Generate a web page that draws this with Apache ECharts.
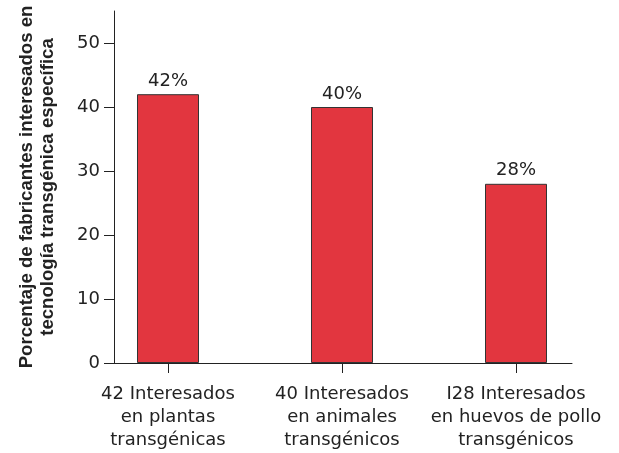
<!DOCTYPE html>
<html>
<head>
<meta charset="utf-8">
<script src="https://cdn.jsdelivr.net/npm/echarts@6/dist/echarts.min.js"></script>
<style>html,body{margin:0;padding:0;background:#fff}#c{width:619px;height:453px}</style>
</head>
<body>
<div id="c"></div>
<script>
const categories = ['42 Interesados\nen plantas\ntransgénicas', '40 Interesados\nen animales\ntransgénicos', 'I28 Interesados\nen huevos de pollo\ntransgénicos'];
const values = [42, 40, 28];
const yTicks = [0, 10, 20, 30, 40, 50];
const yName = 'Porcentaje de fabricantes interesados en\ntecnología transgénica específica';

const txt = '#222';
const font = 'DejaVu Sans';
const chart = echarts.init(document.getElementById('c'));
chart.setOption({
  animation: false,
  grid: [
    {left: 81, right: 16, top: 11, bottom: 90},
    {left: 114, right: 47, top: 11, bottom: 90}
  ],
  xAxis: [
    {gridIndex: 0, type: 'category', data: categories,
     axisLine: {show: false},
     axisTick: {show: true, alignWithLabel: true, length: 10, lineStyle: {color: txt, width: 1}},
     axisLabel: {color: txt, fontFamily: font, fontSize: 18, lineHeight: 23, margin: 20, interval: 0}},
    {gridIndex: 1, type: 'value', min: 0, max: 1,
     axisLine: {show: true, lineStyle: {color: txt, width: 1}},
     axisTick: {show: false}, axisLabel: {show: false}, splitLine: {show: false}}
  ],
  yAxis: [
    {gridIndex: 0, type: 'value', min: 0, max: 55, show: false, splitLine: {show: false}},
    {gridIndex: 1, type: 'value', min: 0, max: 55, interval: 10,
     name: yName, nameLocation: 'middle', nameGap: 56,
     nameTextStyle: {color: txt, fontFamily: 'Liberation Sans', fontWeight: 'bold', fontSize: 18.6, lineHeight: 21},
     axisLine: {show: true, lineStyle: {color: txt, width: 1}},
     axisTick: {show: true, length: 10, customValues: yTicks, lineStyle: {color: txt, width: 1}},
     axisLabel: {color: txt, fontFamily: font, fontSize: 18, margin: 14, customValues: yTicks},
     splitLine: {show: false}}
  ],
  series: [{
    type: 'bar', xAxisIndex: 0, yAxisIndex: 0, data: values, barWidth: 62,
    itemStyle: {color: '#e2363f', borderColor: '#333', borderWidth: 1},
    label: {show: true, position: 'top', distance: 4, formatter: '{c}%', color: txt, fontFamily: font, fontSize: 18}
  }]
});
</script>
</body>
</html>
